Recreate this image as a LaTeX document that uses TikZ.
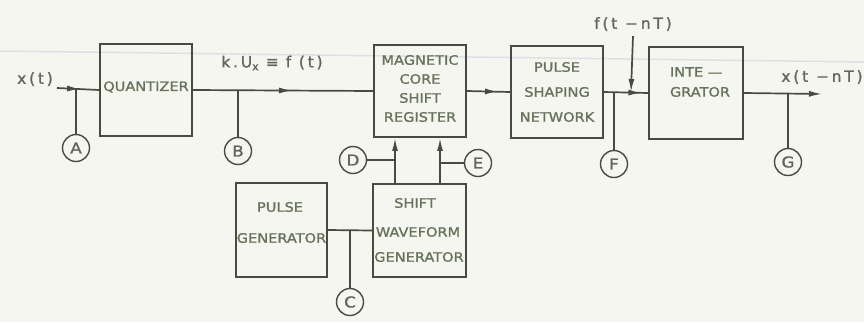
\documentclass[tikz,border=0pt]{standalone}
\usepackage{fontspec}
\newfontfamily\lett[FakeStretch=1.12, FakeBold=1.2]{DejaVu Sans}
\newfontfamily\sigf[LetterSpace=18, FakeBold=1.2]{DejaVu Sans}
\usetikzlibrary{arrows.meta,decorations.markings}
\definecolor{ink}{HTML}{4A4A40}
\definecolor{txt}{HTML}{66725A}
\definecolor{paper}{HTML}{F6F6F0}
\definecolor{scan}{HTML}{DDE1E3}
\tikzset{
  box/.style={draw=ink, line width=1.9pt, minimum width=#1, minimum height=92pt, inner sep=0pt},
  box/.default=92pt,
  lab/.style={text=txt, font=\lett\fontsize{13}{13}\selectfont, align=center, inner sep=0pt},
  sig/.style={text=ink!85, font=\sigf\fontsize{15.5}{15.5}\selectfont, inner sep=0pt},
  circ/.style={circle, draw=ink, line width=1.4pt, minimum size=27pt, inner sep=0pt,
               text=ink!85, font=\lett\fontsize{15}{15}\selectfont},
  wire/.style={draw=ink, line width=1.7pt},
  tipend/.style={-{Latex[length=13pt,width=6pt]}},
  midarrow/.style={postaction={decorate}, decoration={markings,
      mark=at position #1 with {\arrow{Latex[length=13pt,width=6pt]}}}}
}
\begin{document}
\begin{tikzpicture}[x=1pt,y=-1pt]
\fill[paper] (0,0) rectangle (864,322);
\useasboundingbox (0,0) rectangle (864,322);
\draw[scan, line width=1.5pt] (0,51) -- (864,62);

% main row boxes
\node[box] (Q) at (146,90) {};
\node[box] (M) at (420,91) {};
\node[box] (P) at (557,92) {};
\node[box=94pt] (I) at (696,93) {};
% lower boxes
\node[box=91pt, minimum height=94pt] (PG) at (281.5,230) {};
\node[box=93pt, minimum height=93pt] (SW) at (419.5,230.5) {};

% box texts
\node[lab] (tq) at (146,87) {QUANTIZER};
\node[lab, font=\lett\fontsize{13}{19}\selectfont] (tm) at (420,88.5) {MAGNETIC\\CORE\\SHIFT\\REGISTER};
\node[lab, font=\lett\fontsize{13}{25}\selectfont] (tp) at (557,92) {PULSE\\SHAPING\\NETWORK};
\node[lab, font=\lett\fontsize{13}{20}\selectfont, align=left] (ti) at (700,82) {INTE —\\GRATOR};
\node[lab] (tpg1) at (280,207) {PULSE};
\node[lab] (tpg2) at (281.5,238) {GENERATOR};
\node[lab] (tsw1) at (415,203) {SHIFT};
\node[lab] (tsw2) at (418,232) {WAVEFORM};
\node[lab] (tsw3) at (419,257) {GENERATOR};

% signal labels
\node[sig] (xt) at (35,79) {x(t)};
\node[sig] (ku) at (272,63) {k.U\raisebox{-3pt}{\fontsize{11}{11}\selectfont x}\hspace{7pt}≡\hspace{7pt}f (t)};
\node[sig] (ft) at (633,24) {f(t −nT)};
\node[sig] (xo) at (822,77) {x(t −nT)};

% coordinates
\coordinate (in) at (57,88);
\coordinate (join) at (631,92);
\coordinate (out) at (822,94);
\coordinate (d) at (395,0);
\coordinate (e) at (440,0);

% circles
\node[circ] (A) at (76,148) {A};
\node[circ] (B) at (238,151) {B};
\node[circ] (C) at (350,302) {C};
\node[circ] (D) at (353,160) {D};
\node[circ] (E) at (478,163) {E};
\node[circ] (F) at (614,164) {F};
\node[circ] (G) at (788,162) {G};

% main signal path
\draw[wire, midarrow=0.55] (in) -- (Q.west);
\draw[wire, midarrow=0.55] (Q.east) -- (M.west);
\draw[wire, midarrow=0.72] (M.east) -- (P.west);
\draw[wire, midarrow=0.85] (P.east) -- (I.west);
\draw[wire, tipend] (I.east) -- (out);
\draw[wire, tipend] (ft.south) ++(0,5) -- (join);

% test point taps
\draw[wire] (A.north) -- (A |- in);
\draw[wire] (B.north) -- (B |- Q.east);
\draw[wire] (F.north) -- (F |- P.east);
\draw[wire] (G.north) -- (G |- I.east);

% lower section
\draw[wire] (PG.east) -- (SW.west);
\draw[wire] (C.north) -- (C |- PG.east);
\draw[wire, tipend] (SW.north -| d) -- (M.south -| d);
\draw[wire, tipend] (SW.north -| e) -- (M.south -| e);
\draw[wire] (D.east) -- (D -| d);
\draw[wire] (E.west) -- (E -| e);
\end{tikzpicture}
\end{document}
